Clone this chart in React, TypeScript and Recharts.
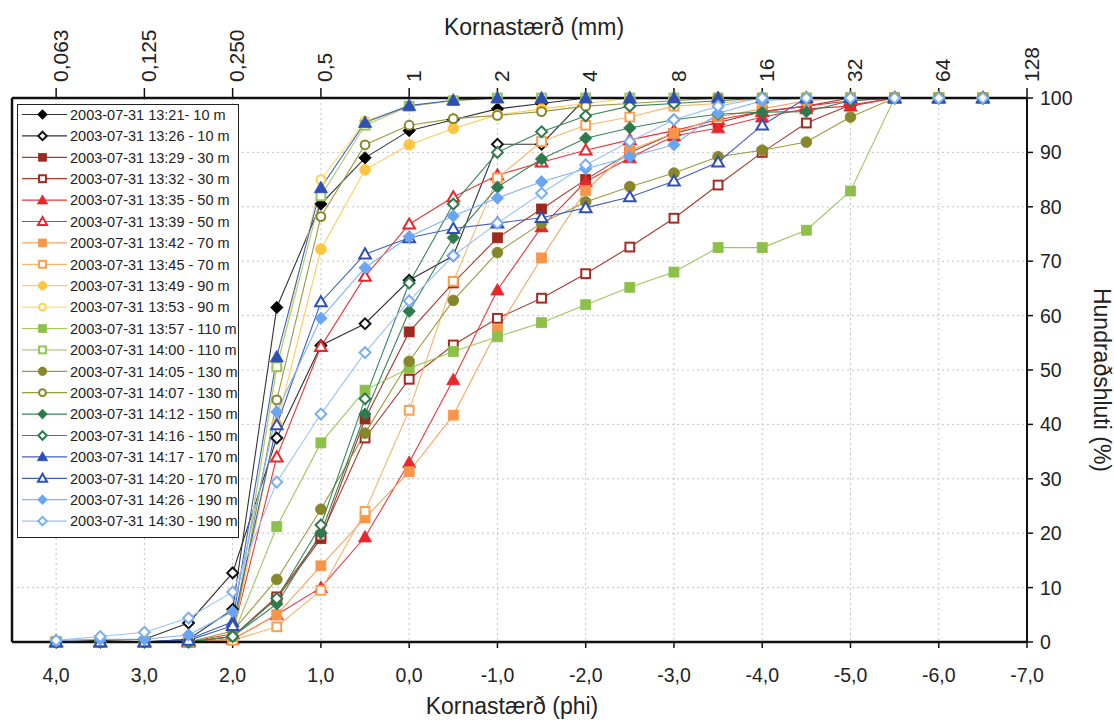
import React from 'react';
import { LineChart, Line, XAxis, YAxis, CartesianGrid, Legend, ReferenceLine, Label } from 'recharts';

const FONT = '"Liberation Sans", Arial, Helvetica, sans-serif';
const TXT = '#222';

// x positions (phi)
const phiValues = [4, 3.5, 3, 2.5, 2, 1.5, 1, 0.5, 0, -0.5, -1, -1.5, -2, -2.5, -3, -3.5, -4, -4.5, -5, -5.5, -6, -6.5];

// cumulative percentages per sample
const s1321 = [0, 0, 0, 0.5, 6, 61.5, 80.5, 89, 94, 96, 98, 99, 100, 100, 100, 100, 100, 100, 100, 100, 100, 100];
const s1326 = [0, 0.3, 0.5, 3.5, 12.7, 37.5, 54.5, 58.5, 66.5, 71, 91.5, 91.5, 100, 100, 100, 100, 100, 100, 100, 100, 100, 100];
const s1329 = [0, 0, 0, 0, 1, 8, 19, 41, 57, 66, 74.3, 79.6, 85, 90, 93.5, 95.5, 97.5, 98.5, 100, 100, 100, 100];
const s1332 = [0, 0, 0, 0, 1, 8.3, 19.5, 37.5, 48.3, 54.6, 59.5, 63.2, 67.7, 72.6, 77.9, 84, 90, 95.4, 98.7, 100, 100, 100];
const s1335 = [0, 0, 0, 0, 0.5, 5, 10, 19.3, 33, 48.2, 64.7, 76.3, 84.6, 89, 93, 94.5, 96.5, 98, 98.5, 100, 100, 100];
const s1339 = [0, 0, 0, 0, 1.5, 34, 54.3, 67.2, 76.8, 81.8, 85.8, 88.2, 90.4, 92.3, 94, 96, 97.5, 98.5, 99.5, 100, 100, 100];
const s1342 = [0, 0, 0, 0, 0.5, 5, 14, 22.8, 31.3, 41.7, 57.4, 70.6, 83, 90.4, 93.5, 96.5, 98, 99.5, 100, 100, 100, 100];
const s1345 = [0, 0, 0, 0, 0.3, 2.8, 9.5, 24, 42.6, 66.3, 85.3, 92, 95, 96.5, 98.5, 99, 100, 100, 100, 100, 100, 100];
const s1349 = [0, 0, 0, 0, 1, 40, 72.2, 86.8, 91.4, 94.4, 96.9, 98, 99, 100, 100, 100, 100, 100, 100, 100, 100, 100];
const s1353 = [0, 0, 0, 0, 1, 50.5, 85, 95.8, 98.5, 99.5, 100, 100, 100, 100, 100, 100, 100, 100, 100, 100, 100, 100];
const s1357 = [0, 0, 0, 0, 1, 21.2, 36.6, 46.3, 50.3, 53.4, 56.1, 58.7, 62, 65.2, 68, 72.5, 72.5, 75.7, 82.9, 100, 100, 100];
const s1400 = [0, 0, 0, 0, 1, 50.6, 82, 95, 98.5, 99.5, 100, 100, 100, 100, 100, 100, 100, 100, 100, 100, 100, 100];
const s1405 = [0, 0, 0, 0, 2, 11.5, 24.4, 38.4, 51.6, 62.8, 71.6, 77, 80.9, 83.7, 86.2, 89.2, 90.4, 91.9, 96.5, 100, 100, 100];
const s1407 = [0, 0, 0, 0, 1, 44.5, 78.2, 91.4, 95, 96.2, 96.8, 97.5, 98.5, 99, 99.5, 100, 100, 100, 100, 100, 100, 100];
const s1412 = [0, 0, 0, 0, 1, 7, 20, 41.9, 60.8, 74.3, 83.6, 88.8, 92.6, 94.5, 96, 97, 97.4, 97.5, 99.5, 100, 100, 100];
const s1416 = [0, 0, 0, 0, 1, 8, 21.5, 44.7, 66, 80.5, 90, 93.8, 96.7, 98.5, 99, 99.5, 100, 100, 100, 100, 100, 100];
const s1417 = [0, 0, 0, 0.5, 3.7, 52.4, 83.5, 95.5, 98.6, 99.6, 100, 100, 100, 100, 100, 100, 100, 100, 100, 100, 100, 100];
const s1420 = [0, 0, 0, 0.3, 3, 39.9, 62.5, 71.3, 74.3, 76, 77, 78, 79.8, 81.8, 84.7, 88.2, 95, 100, 100, 100, 100, 100];
const s1426 = [0.3, 0.5, 0.5, 1.3, 5.6, 42.3, 59.5, 68.8, 74.5, 78.3, 81.6, 84.6, 87, 89.2, 91.4, 97.2, 99.5, 100, 100, 100, 100, 100];
const s1430 = [0.3, 1, 1.8, 4.4, 9.2, 29.4, 41.9, 53.2, 62.7, 71, 77, 82.5, 87.7, 92, 96, 98.5, 100, 100, 100, 100, 100, 100];

const seriesValues = [s1321, s1326, s1329, s1332, s1335, s1339, s1342, s1345, s1349, s1353, s1357, s1400, s1405, s1407, s1412, s1416, s1417, s1420, s1426, s1430];

const seriesNames = [
  '2003-07-31 13:21- 10 m',
  '2003-07-31 13:26 - 10 m',
  '2003-07-31 13:29 - 30 m',
  '2003-07-31 13:32 - 30 m',
  '2003-07-31 13:35 - 50 m',
  '2003-07-31 13:39 - 50 m',
  '2003-07-31 13:42 - 70 m',
  '2003-07-31 13:45 - 70 m',
  '2003-07-31 13:49 - 90 m',
  '2003-07-31 13:53 - 90 m',
  '2003-07-31 13:57 - 110 m',
  '2003-07-31 14:00 - 110 m',
  '2003-07-31 14:05 - 130 m',
  '2003-07-31 14:07 - 130 m',
  '2003-07-31 14:12 - 150 m',
  '2003-07-31 14:16 - 150 m',
  '2003-07-31 14:17 - 170 m',
  '2003-07-31 14:20 - 170 m',
  '2003-07-31 14:26 - 190 m',
  '2003-07-31 14:30 - 190 m',
];

const markerColors = ['#000000', '#111111', '#9C2A1E', '#A52A22', '#E8262C', '#E8262C', '#F7964A', '#F9A050', '#FFC440', '#FFD24D', '#8DC04A', '#94C656', '#86862A', '#86862A', '#2E7A4C', '#2E7A4C', '#2F4FB5', '#2F4FB5', '#6AA5F2', '#79AEF4'];
const lineColors = ['#333333', '#333333', '#A83A2E', '#A83A2E', '#E8363C', '#E8363C', '#F7A35E', '#F9B46E', '#FFCC55', '#FFDD77', '#9CC85E', '#A8D070', '#9A9A40', '#9A9A40', '#3A8458', '#3A8458', '#4060C0', '#4060C0', '#7FB2F4', '#9AC2F6'];

type Shape = 'diamond' | 'square' | 'triangle' | 'circle';
const seriesShapes: Shape[] = ['diamond', 'diamond', 'square', 'square', 'triangle', 'triangle', 'square', 'square', 'circle', 'circle', 'square', 'square', 'circle', 'circle', 'diamond', 'diamond', 'triangle', 'triangle', 'diamond', 'diamond'];
const seriesFilled = [true, false, true, false, true, false, true, false, true, false, true, false, true, false, true, false, true, false, true, false];

const bottomTicks = [4, 3, 2, 1, 0, -1, -2, -3, -4, -5, -6, -7];
const bottomTickLabels = ['4,0', '3,0', '2,0', '1,0', '0,0', '-1,0', '-2,0', '-3,0', '-4,0', '-5,0', '-6,0', '-7,0'];
const topTickLabels = ['0,063', '0,125', '0,250', '0,5', '1', '2', '4', '8', '16', '32', '64', '128'];
const yTicks = [0, 10, 20, 30, 40, 50, 60, 70, 80, 90, 100];

const rows = phiValues.map((p, i) => {
  const r: Record<string, number> = { phi: p };
  seriesValues.forEach((s, k) => {
    r['s' + k] = s[i];
  });
  return r;
});

function Marker({ cx, cy, shape, filled, color, scale = 1 }: { cx: number; cy: number; shape: Shape; filled: boolean; color: string; scale?: number }) {
  if (cx == null || cy == null || isNaN(cx) || isNaN(cy)) return <g />;
  const fill = filled ? color : '#ffffff';
  const sw = filled ? 0.8 : 2;
  if (shape === 'diamond') {
    const r = (filled ? 6.2 : 5.4) * scale;
    return <polygon points={`${cx},${cy - r} ${cx + r},${cy} ${cx},${cy + r} ${cx - r},${cy}`} fill={fill} stroke={color} strokeWidth={sw} />;
  }
  if (shape === 'square') {
    const h = (filled ? 5 : 4.4) * scale;
    return <rect x={cx - h} y={cy - h} width={2 * h} height={2 * h} fill={fill} stroke={color} strokeWidth={sw} />;
  }
  if (shape === 'triangle') {
    const h = (filled ? 6.6 : 5.8) * scale;
    return <polygon points={`${cx},${cy - h} ${cx + h},${cy + h * 0.75} ${cx - h},${cy + h * 0.75}`} fill={fill} stroke={color} strokeWidth={sw} strokeLinejoin="miter" />;
  }
  const r = (filled ? 5.4 : 4.4) * scale;
  return <circle cx={cx} cy={cy} r={r} fill={fill} stroke={color} strokeWidth={sw} />;
}

const makeDot = (k: number) => (p: any) => (
  <g key={`dot-${k}-${p.index}`}>
    <Marker cx={p.cx} cy={p.cy} shape={seriesShapes[k]} filled={seriesFilled[k]} color={markerColors[k]} />
  </g>
);

const LegendBox = () => (
  <svg width={223} height={435} style={{ display: 'block' }}>
    <rect x={0.5} y={0.5} width={221} height={433} fill="#ffffff" stroke="#222" strokeWidth={1} />
    {seriesNames.map((n, i) => {
      const y = 10.5 + i * 21.4;
      return (
        <g key={n}>
          <line x1={5} x2={50} y1={y} y2={y} stroke={lineColors[i]} strokeWidth={1.2} />
          <Marker cx={25.5} cy={y} shape={seriesShapes[i]} filled={seriesFilled[i]} color={markerColors[i]} scale={0.78} />
          <text x={53} y={y} dy="0.36em" fontSize={14.5} fontFamily={FONT} fill={TXT}>{n}</text>
        </g>
      );
    })}
  </svg>
);

const TopTick = (props: any) => {
  const { x, y, payload } = props;
  const idx = bottomTicks.indexOf(payload.value);
  const label = idx >= 0 ? topTickLabels[idx] : '';
  return (
    <text x={x} y={y} transform={`rotate(-90, ${x}, ${y})`} textAnchor="start" dy="0.55em" fontSize={21} fontFamily={FONT} fill={TXT}>
      {label}
    </text>
  );
};

export default function App() {
  return (
    <div style={{ position: 'absolute', left: 0, top: 0, width: 1114, height: 720, background: '#ffffff' }}>
      <LineChart width={1114} height={720} data={rows} margin={{ top: 0, right: 0, bottom: 0, left: 12 }}>
        <CartesianGrid xAxisId="b" yAxisId="r" stroke="#c4c4c4" strokeDasharray="2 3" strokeWidth={1} />
        <XAxis
          xAxisId="b"
          dataKey="phi"
          type="number"
          domain={[-7, 4.5]}
          allowDataOverflow
          reversed
          ticks={bottomTicks}
          interval={0}
          tickFormatter={(v: number) => bottomTickLabels[bottomTicks.indexOf(v)] ?? ''}
          height={78}
          tickSize={6}
          tickMargin={20}
          tick={{ fontSize: 19.5, fill: TXT, fontFamily: FONT }}
          axisLine={{ stroke: '#111', strokeWidth: 2.5 }}
          tickLine={{ stroke: '#111', strokeWidth: 1.5 }}
        >
          <Label
            content={() => (
              <text x={512} y={714} textAnchor="middle" fontSize={23} fontFamily={FONT} fill={TXT}>
                Kornastærð (phi)
              </text>
            )}
          />
        </XAxis>
        <XAxis
          xAxisId="t"
          dataKey="phi"
          orientation="top"
          type="number"
          domain={[-7, 4.5]}
          allowDataOverflow
          reversed
          ticks={bottomTicks}
          interval={0}
          height={98}
          tickSize={10}
          tickMargin={6}
          tick={<TopTick />}
          axisLine={{ stroke: '#111', strokeWidth: 2.5 }}
          tickLine={{ stroke: '#111', strokeWidth: 1.5 }}
        >
          <Label
            content={() => (
              <text x={534} y={35} textAnchor="middle" fontSize={23} fontFamily={FONT} fill={TXT}>
                Kornastærð (mm)
              </text>
            )}
          />
        </XAxis>
        <YAxis
          yAxisId="r"
          orientation="right"
          width={87}
          domain={[0, 100]}
          ticks={yTicks}
          interval={0}
          tickSize={6}
          tickMargin={7}
          tick={{ fontSize: 19.5, fill: TXT, fontFamily: FONT }}
          axisLine={{ stroke: '#111', strokeWidth: 2 }}
          tickLine={{ stroke: '#111', strokeWidth: 1.5 }}
        >
          <Label
            content={() => (
              <text x={1094} y={380} transform="rotate(90, 1094, 380)" textAnchor="middle" fontSize={23} fontFamily={FONT} fill={TXT}>
                Hundraðshluti (%)
              </text>
            )}
          />
        </YAxis>
        <ReferenceLine xAxisId="b" yAxisId="r" x={4.5} stroke="#111" strokeWidth={2.5} />
        {seriesValues.map((_, k) => (
          <Line
            key={'s' + k}
            xAxisId="b"
            yAxisId="r"
            type="linear"
            dataKey={'s' + k}
            name={seriesNames[k]}
            stroke={lineColors[k]}
            strokeWidth={1.1}
            dot={makeDot(k)}
            activeDot={false}
            isAnimationActive={false}
          />
        ))}
        <Legend
          layout="vertical"
          align="center"
          verticalAlign="middle"
          content={() => <LegendBox />}
          wrapperStyle={{ position: 'absolute', left: 17, top: 104, width: 223, height: 435, margin: 0, padding: 0 }}
        />
      </LineChart>
    </div>
  );
}
